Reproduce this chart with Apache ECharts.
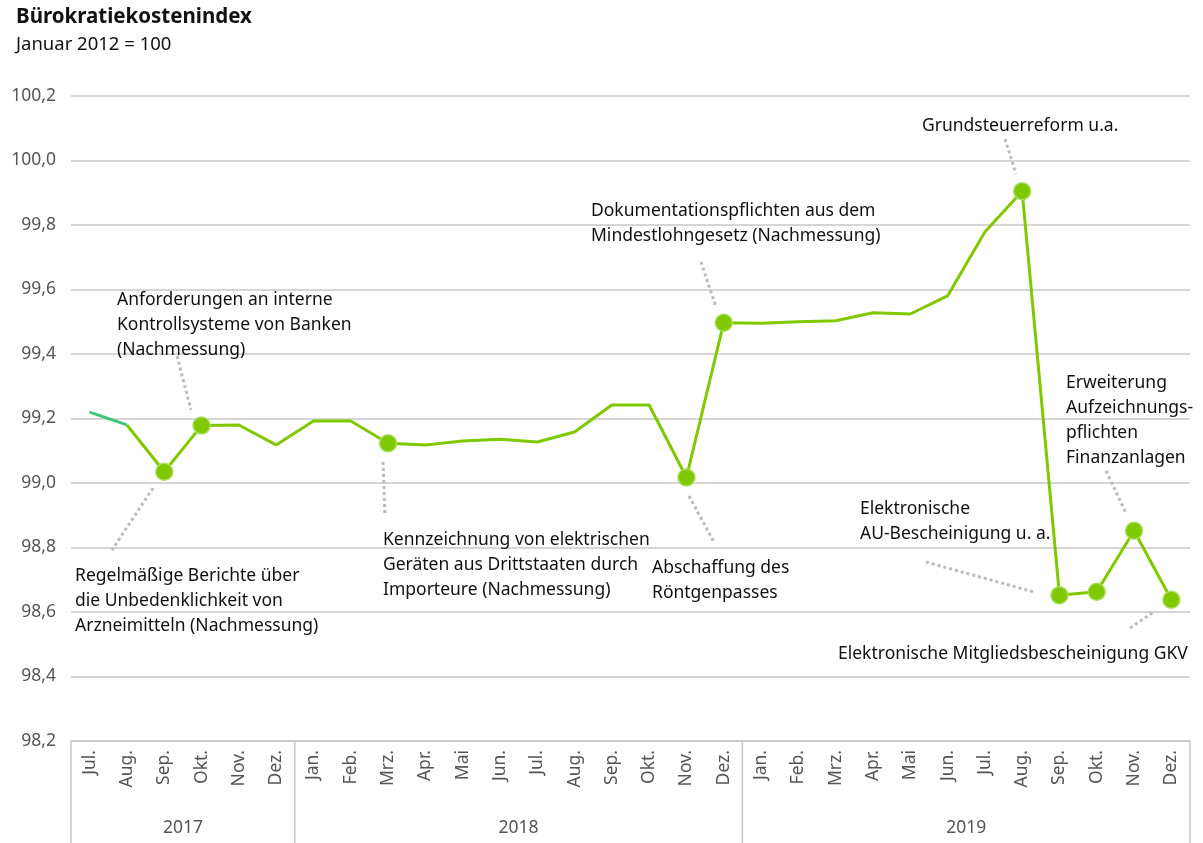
<!DOCTYPE html>
<html>
<head>
<meta charset="utf-8">
<script src="https://cdn.jsdelivr.net/npm/echarts@6/dist/echarts.min.js"></script>
<style>
  html, body { margin: 0; padding: 0; background: #fff; }
  #chart { width: 1203px; height: 843px; }
</style>
</head>
<body>
<div id="chart"></div>
<script>
// Monate Jul. 2017 bis Dez. 2019
var months = ['Jul.', 'Aug.', 'Sep.', 'Okt.', 'Nov.', 'Dez.',
  'Jan.', 'Feb.', 'Mrz.', 'Apr.', 'Mai', 'Jun.', 'Jul.', 'Aug.', 'Sep.', 'Okt.', 'Nov.', 'Dez.',
  'Jan.', 'Feb.', 'Mrz.', 'Apr.', 'Mai', 'Jun.', 'Jul.', 'Aug.', 'Sep.', 'Okt.', 'Nov.', 'Dez.'];
var years = ['2017', '2018', '2019'];
var yearStart = [0, 6, 18];
var yearEnd = [5, 17, 29];

var index = [99.22, 99.18, 99.035, 99.178, 99.18, 99.118,
  99.192, 99.192, 99.123, 99.118, 99.13, 99.136, 99.127, 99.158, 99.242, 99.242, 99.017, 99.497,
  99.495, 99.5, 99.503, 99.528, 99.524, 99.58, 99.778, 99.905, 98.652, 98.663, 98.852, 98.638];

// Monate mit Markierung (Ereignisse)
var marked = [2, 3, 8, 16, 17, 25, 26, 27, 28, 29];

var yTicks = ['98,2', '98,4', '98,6', '98,8', '99,0', '99,2', '99,4', '99,6', '99,8', '100,0', '100,2'];

var notes = [
  { lines: ['Anforderungen an interne', 'Kontrollsysteme von Banken', '(Nachmessung)'], x: 117, y: 288, from: [177, 356], to: [191, 410] },
  { lines: ['Regelmäßige Berichte über', 'die Unbedenklichkeit von', 'Arzneimitteln (Nachmessung)'], x: 75, y: 564, from: [153, 488], to: [112, 550] },
  { lines: ['Kennzeichnung von elektrischen', 'Geräten aus Drittstaaten durch', 'Importeure (Nachmessung)'], x: 383, y: 528, from: [383, 462], to: [385, 516] },
  { lines: ['Abschaffung des', 'Röntgenpasses'], x: 652, y: 556, from: [689, 496], to: [714, 542] },
  { lines: ['Dokumentationspflichten aus dem', 'Mindestlohngesetz (Nachmessung)'], x: 591, y: 199, from: [701, 262], to: [716, 307] },
  { lines: ['Grundsteuerreform u.a.'], x: 922, y: 114, from: [1005, 139], to: [1016, 174] },
  { lines: ['Elektronische', 'AU-Bescheinigung u. a.'], x: 860, y: 497, from: [926, 562], to: [1034, 592] },
  { lines: ['Erweiterung', 'Aufzeichnungs-', 'pflichten', 'Finanzanlagen'], x: 1066, y: 371, from: [1106, 471], to: [1126, 513] },
  { lines: ['Elektronische Mitgliedsbescheinigung GKV'], x: 838, y: 642, from: [1130, 628], to: [1155, 611] }
];

var FONT = '"Noto Sans", sans-serif';
var GREEN = '#80c800';
var TEAL = '#3ec67a';

var chart = echarts.init(document.getElementById('chart'));

var mainData = index.map(function (v, i) {
  if (i === 0) return '-';
  if (marked.indexOf(i) >= 0) return { value: v, symbol: 'circle', symbolSize: 17 };
  return { value: v, symbol: 'none' };
});
var startData = index.map(function (v, i) { return i <= 1 ? v : '-'; });

var option = {
  backgroundColor: '#fff',
  animation: false,
  textStyle: { fontFamily: FONT },
  grid: { left: 71, right: 13, top: 96, bottom: 102 },
  xAxis: {
    type: 'category',
    data: months,
    boundaryGap: true,
    axisLine: { lineStyle: { color: '#c8c8c8', width: 1.5 } },
    axisTick: { show: false },
    axisLabel: { rotate: 90, color: '#555', fontSize: 17.5, fontFamily: FONT, margin: 9, interval: 0 }
  },
  yAxis: {
    type: 'value',
    min: 98.2,
    max: 100.2,
    interval: 0.2,
    axisLine: { show: false },
    axisTick: { show: false },
    splitLine: { lineStyle: { color: '#c8c8c8', width: 1.5 } },
    axisLabel: {
      color: '#555', fontSize: 17.5, fontFamily: FONT, margin: 15,
      formatter: function (v) {
        var k = Math.round((v - 98.2) / 0.2);
        return yTicks[k];
      }
    }
  },
  series: [
    {
      type: 'line',
      data: startData,
      symbol: 'none',
      lineStyle: { color: TEAL, width: 3 },
      z: 3
    },
    {
      type: 'line',
      data: mainData,
      lineStyle: { color: GREEN, width: 3 },
      itemStyle: { color: GREEN, borderColor: '#a8df5c', borderWidth: 1.5 },
      z: 4
    }
  ]
};
chart.setOption(option);

// Jahresbeschriftung, Trennlinien und Anmerkungen
var els = [];
els.push({ type: 'text', left: 16, top: 7, style: { text: 'Bürokratiekostenindex', font: 'bold 20.5px ' + FONT, fill: '#111' } });
els.push({ type: 'text', left: 16, top: 35, style: { text: 'Januar 2012 = 100', font: '18.5px ' + FONT, fill: '#111' } });

var axisY = chart.convertToPixel({ yAxisIndex: 0 }, 98.2);
var band = chart.convertToPixel({ xAxisIndex: 0 }, 1) - chart.convertToPixel({ xAxisIndex: 0 }, 0);
var sepX = [];
yearStart.forEach(function (s) { sepX.push(chart.convertToPixel({ xAxisIndex: 0 }, s) - band / 2); });
sepX.push(chart.convertToPixel({ xAxisIndex: 0 }, 29) + band / 2);
sepX.forEach(function (x) {
  els.push({ type: 'line', shape: { x1: x, y1: axisY, x2: x, y2: 843 }, style: { stroke: '#c8c8c8', lineWidth: 1.5 } });
});
years.forEach(function (yr, k) {
  var cx = (chart.convertToPixel({ xAxisIndex: 0 }, yearStart[k]) + chart.convertToPixel({ xAxisIndex: 0 }, yearEnd[k])) / 2;
  els.push({ type: 'text', x: cx, y: 828, style: { text: yr, font: '17.5px ' + FONT, fill: '#555', align: 'center', verticalAlign: 'middle' } });
});

notes.forEach(function (n) {
  els.push({
    type: 'line', z: 1,
    shape: { x1: n.from[0], y1: n.from[1], x2: n.to[0], y2: n.to[1] },
    style: { stroke: '#bbbbbb', lineWidth: 3, lineDash: [3, 3] }
  });
  els.push({
    type: 'text', left: n.x, top: n.y, z: 10,
    style: { text: n.lines.join('\n'), font: '17.5px ' + FONT, lineHeight: 25, fill: '#111' }
  });
});

chart.setOption({ graphic: { elements: els } });
</script>
</body>
</html>
